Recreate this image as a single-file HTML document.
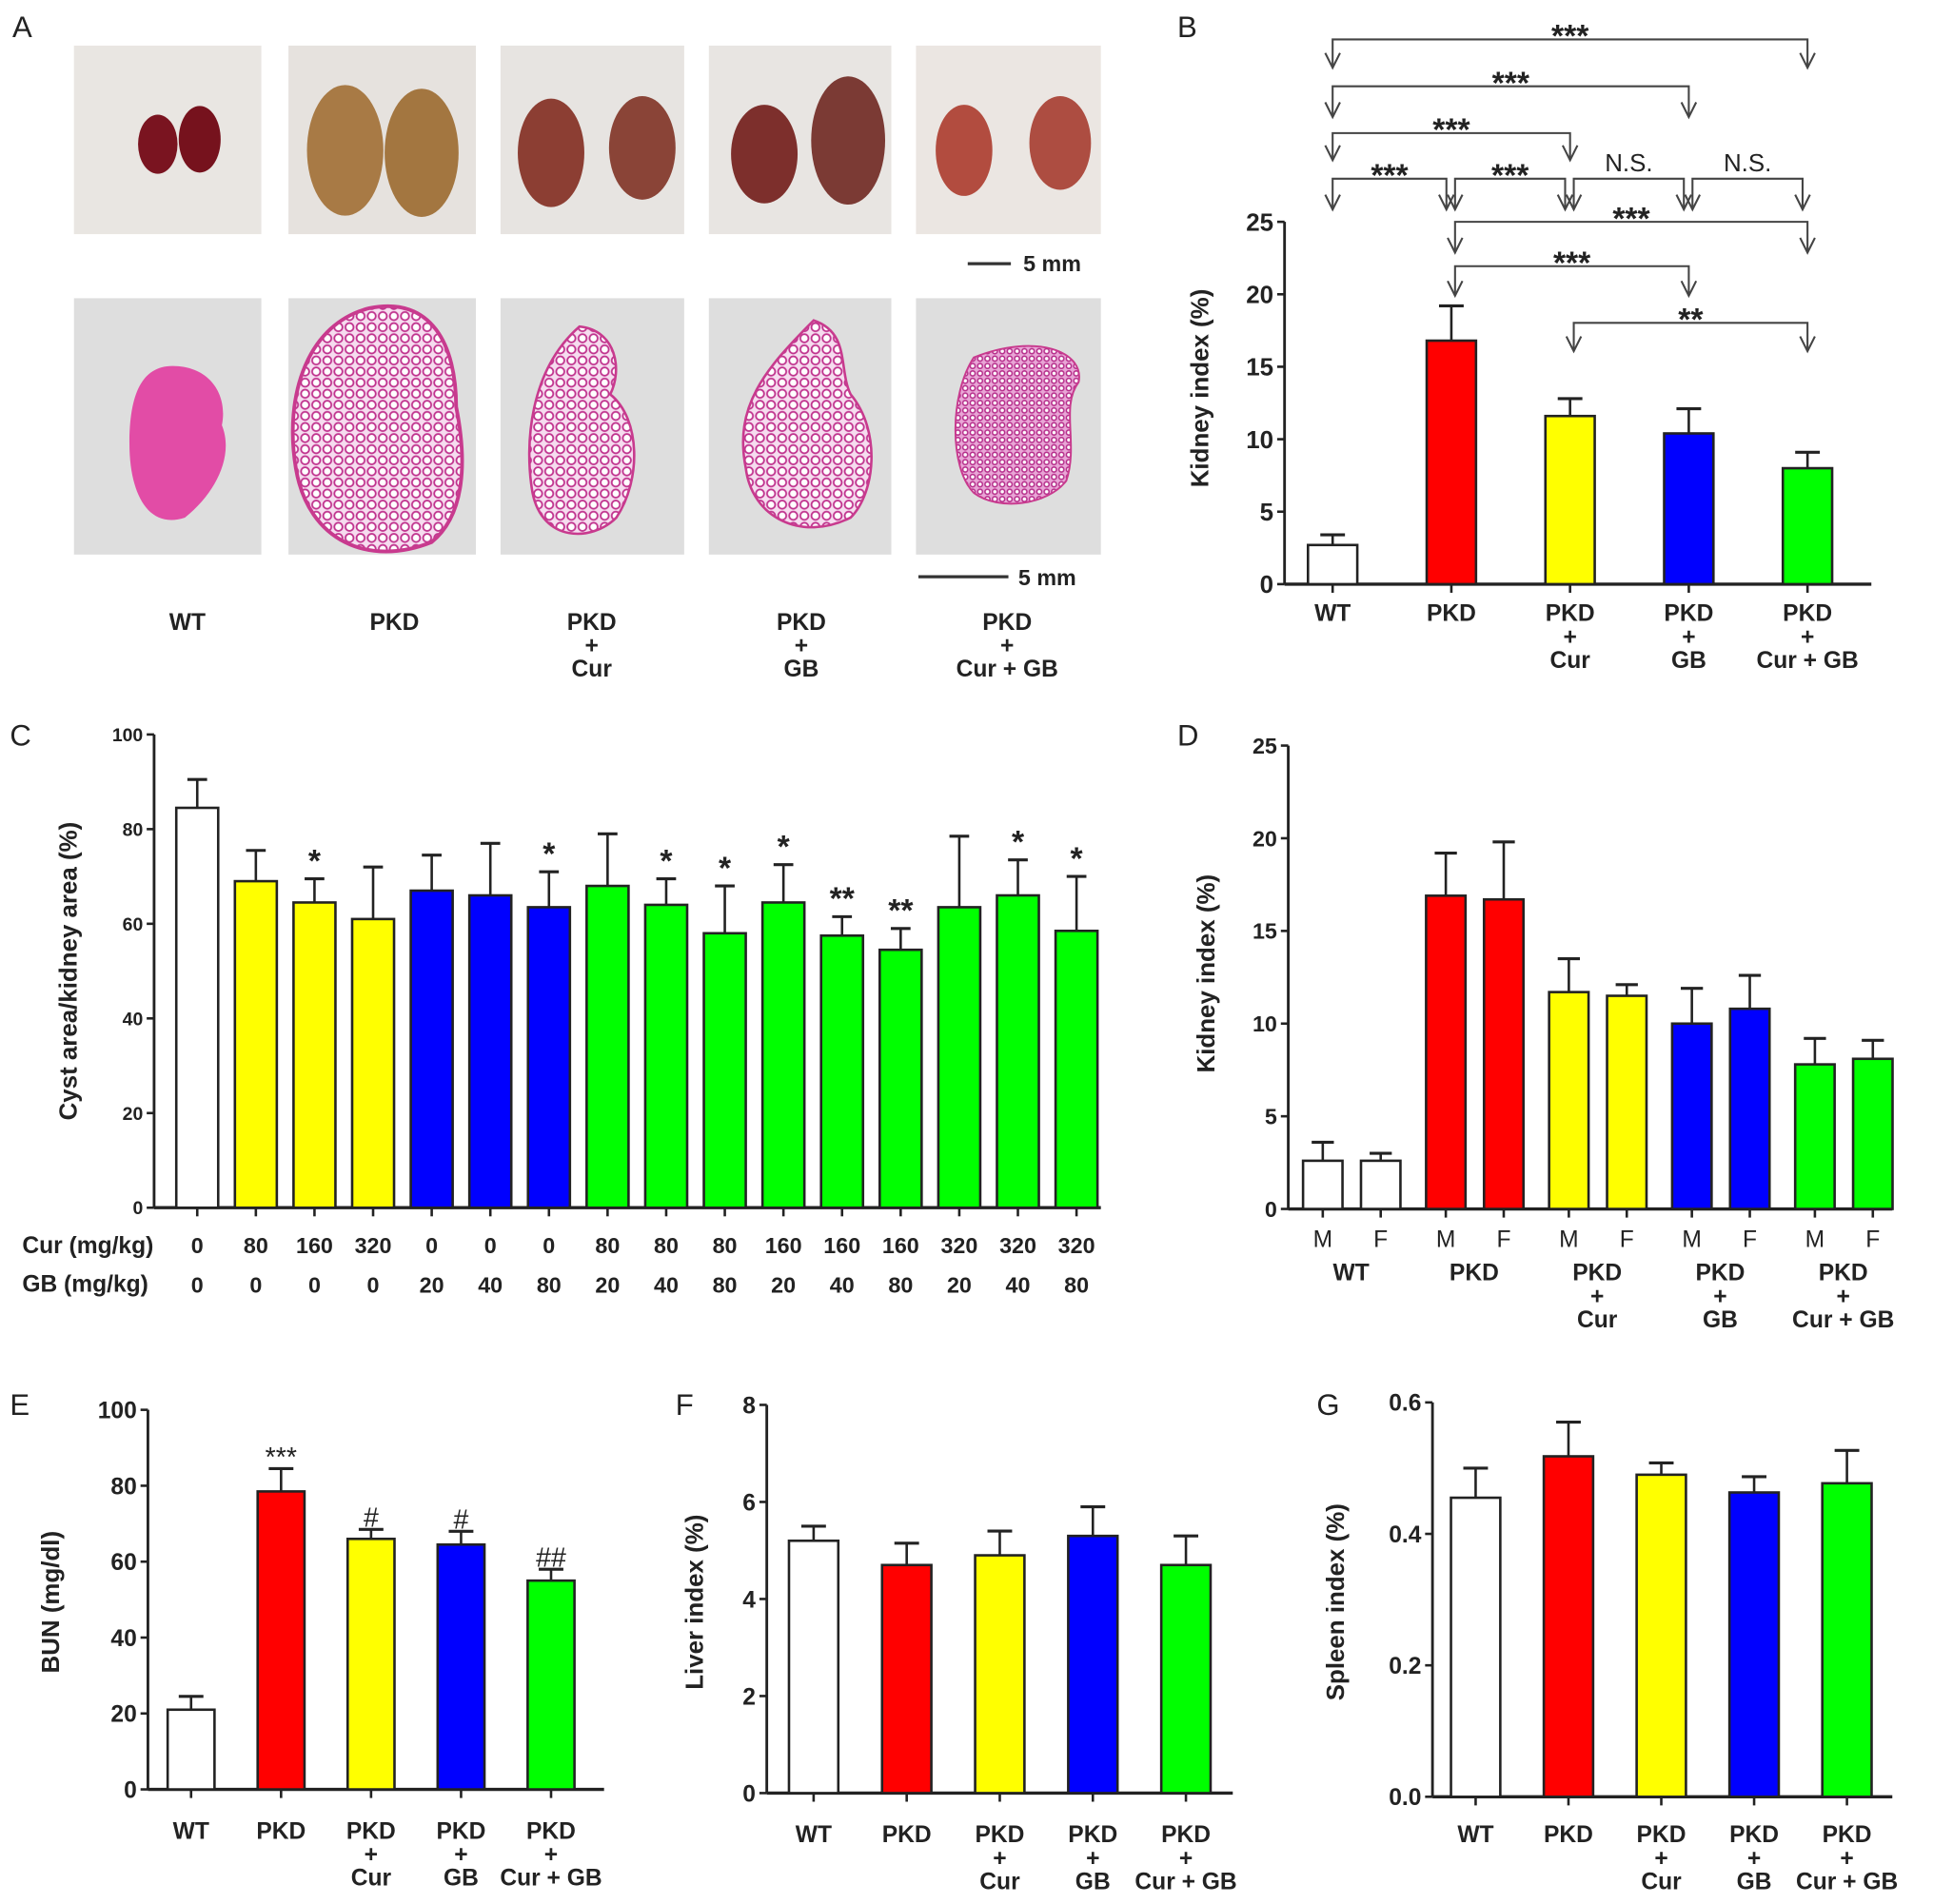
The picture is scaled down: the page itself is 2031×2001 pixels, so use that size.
<!DOCTYPE html>
<html><head><meta charset="utf-8">
<style>
html,body{margin:0;padding:0;background:#fff}
svg{display:block}
text{font-family:"Liberation Sans Narrow","Liberation Sans",sans-serif;fill:#222}
</style></head>
<body>
<svg id="fig" width="2031" height="2001" viewBox="0 0 1568 1545" preserveAspectRatio="none" xmlns="http://www.w3.org/2000/svg">
<defs>
<pattern id="cyst" width="9" height="9" patternUnits="userSpaceOnUse">
<rect width="9" height="9" fill="#f6dcef"/>
<circle cx="4.5" cy="4.5" r="3.3" fill="#fff" stroke="#c0338e" stroke-width="1.4"/>
</pattern>
<pattern id="cyst2" width="6" height="6" patternUnits="userSpaceOnUse">
<rect width="6" height="6" fill="#e9a6d6"/>
<circle cx="3" cy="3" r="2" fill="#fff" stroke="#b52c8a" stroke-width="1.2"/>
</pattern>
</defs>
<g id="panelA">
<text x="10" y="30" font-size="24">A</text>
<rect x="60" y="37" width="152" height="153" fill="#e9e6e2"/>
<rect x="234" y="37" width="152" height="153" fill="#e6e2de"/>
<rect x="406" y="37" width="149" height="153" fill="#e7e4e1"/>
<rect x="575" y="37" width="148" height="153" fill="#e8e5e2"/>
<rect x="743" y="37" width="150" height="153" fill="#ebe6e2"/>
<ellipse cx="128" cy="117" rx="16" ry="24" fill="#7a1420"/><ellipse cx="162" cy="113" rx="17" ry="27" fill="#76121d"/>
<ellipse cx="280" cy="122" rx="31" ry="53" fill="#a87a45"/><ellipse cx="342" cy="124" rx="30" ry="52" fill="#a37640"/>
<ellipse cx="447" cy="124" rx="27" ry="44" fill="#8c3e33"/><ellipse cx="521" cy="120" rx="27" ry="42" fill="#8a4437"/>
<ellipse cx="620" cy="125" rx="27" ry="40" fill="#7d2f2c"/><ellipse cx="688" cy="114" rx="30" ry="52" fill="#7b3a34"/>
<ellipse cx="782" cy="122" rx="23" ry="37" fill="#b24c3f"/><ellipse cx="860" cy="116" rx="25" ry="38" fill="#ad4d41"/>
<line x1="785" y1="214" x2="820" y2="214" stroke="#333" stroke-width="2.5"/>
<text x="830" y="220" font-size="18" font-weight="bold">5 mm</text>
<rect x="60" y="242" width="152" height="208" fill="#dedede"/>
<rect x="234" y="242" width="152" height="208" fill="#dedede"/>
<rect x="406" y="242" width="149" height="208" fill="#dedede"/>
<rect x="575" y="242" width="148" height="208" fill="#dedede"/>
<rect x="743" y="242" width="150" height="208" fill="#dedede"/>
<path d="M140 297 C170 297 185 320 180 345 C190 370 175 400 150 420 C120 430 105 400 105 360 C105 320 115 297 140 297Z" fill="#e24ca6"/>
<path d="M300 250 C350 240 370 280 370 330 C380 380 375 420 350 440 C300 460 250 440 240 380 C230 320 250 262 300 250Z" fill="url(#cyst)" stroke="#c83a8e" stroke-width="3"/>
<path d="M470 265 C500 268 505 300 495 320 C520 340 520 390 500 420 C480 440 440 440 432 400 C425 360 430 300 470 265Z" fill="url(#cyst)" stroke="#c83a8e" stroke-width="2"/>
<path d="M660 260 C690 270 680 300 690 320 C715 350 710 400 690 420 C650 440 610 420 605 380 C595 330 620 300 660 260Z" fill="url(#cyst)" stroke="#c83a8e" stroke-width="2"/>
<path d="M790 290 C840 270 880 285 875 310 C860 330 875 360 865 390 C850 410 810 415 790 400 C770 380 770 320 790 290Z" fill="url(#cyst2)" stroke="#c83a8e" stroke-width="1.5"/>
<line x1="745" y1="468" x2="818" y2="468" stroke="#333" stroke-width="2.5"/>
<text x="826" y="475" font-size="18" font-weight="bold">5 mm</text>
<g font-size="19" font-weight="bold" text-anchor="middle">
<text x="152" y="511">WT</text><text x="320" y="511">PKD</text>
<text x="480" y="511">PKD</text><text x="480" y="530">+</text><text x="480" y="549">Cur</text>
<text x="650" y="511">PKD</text><text x="650" y="530">+</text><text x="650" y="549">GB</text>
<text x="817" y="511">PKD</text><text x="817" y="530">+</text><text x="817" y="549">Cur + GB</text>
</g>
</g>
</svg>
<script>
// ---- data ----
const groupsMain = ["WT","PKD","PKD + Cur","PKD + GB","PKD + Cur + GB"];
const colorsMain = ["#ffffff","#ff0000","#ffff00","#0000ff","#00ff00"];
const kidneyB = [2.7,16.8,11.6,10.4,8.0];
const kidneyBErr = [3.4,19.2,12.8,12.1,9.1];
const bTicks = [0,5,10,15,20,25];

const curDose = ["0","80","160","320","0","0","0","80","80","80","160","160","160","320","320","320"];
const gbDose = ["0","0","0","0","20","40","80","20","40","80","20","40","80","20","40","80"];
const cystVals = [84.5,69,64.5,61,67,66,63.5,68,64,58,64.5,57.5,54.5,63.5,66,58.5];
const cystErr = [90.5,75.5,69.5,72,74.5,77,71,79,69.5,68,72.5,61.5,59,78.5,73.5,70];
const cystStars = ["","","*","","","","*","","*","*","*","**","**","","*","*"];
const cystColors = ["#ffffff","#ffff00","#ffff00","#ffff00","#0000ff","#0000ff","#0000ff","#00ff00","#00ff00","#00ff00","#00ff00","#00ff00","#00ff00","#00ff00","#00ff00","#00ff00"];
const cTicks = [0,20,40,60,80,100];

const sexLabels = ["M","F","M","F","M","F","M","F","M","F"];
const kidneyD = [2.6,2.6,16.9,16.7,11.7,11.5,10.0,10.8,7.8,8.1];
const kidneyDErr = [3.6,3.0,19.2,19.8,13.5,12.1,11.9,12.6,9.2,9.1];
const dTicks = [0,5,10,15,20,25];

const bunVals = [21,78.5,66,64.5,55];
const bunErr = [24.5,84.5,68.5,68,58];
const bunMarks = ["","***","#","#","##"];
const eTicks = [0,20,40,60,80,100];

const liverVals = [5.2,4.7,4.9,5.3,4.7];
const liverErr = [5.5,5.15,5.4,5.9,5.3];
const fTicks = [0,2,4,6,8];

const spleenVals = [0.455,0.518,0.49,0.463,0.477];
const spleenErr = [0.50,0.57,0.508,0.487,0.527];
const gTicks = ["0.0","0.2","0.4","0.6"];

// ---- helpers ----
const NS="http://www.w3.org/2000/svg";
const svg=document.getElementById('fig');
function mk(tag,attrs,parent){const e=document.createElementNS(NS,tag);for(const k in attrs)e.setAttribute(k,attrs[k]);(parent||svg).appendChild(e);return e;}
function txt(x,y,s,size,anchor,parent,weight){const t=mk('text',{x:x,y:y,'font-size':size,'text-anchor':anchor||'middle','font-weight':weight||'bold'},parent);t.textContent=s;return t;}

function chart(cfg){
  const g=mk('g',{});
  
  
  const ys=v=>cfg.y0-(v-cfg.min)/(cfg.max-cfg.min)*(cfg.y0-cfg.yTop);
  const ax=mk('line',{x1:cfg.x0,y1:cfg.yTop,x2:cfg.x0,y2:cfg.y0,stroke:'#222','stroke-width':2.2},g);
  
  
  cfg.ticks.forEach(t=>{
    const v=parseFloat(t);const y=ys(v);
    mk('line',{x1:cfg.x0-6,y1:y,x2:cfg.x0,y2:y,stroke:'#222','stroke-width':2},g);
    const tl=txt(cfg.x0-9,y+cfg.tickSize*0.36,String(t),cfg.tickSize,'end',g);
    
    
  });
  const xa=mk('line',{x1:cfg.x0,y1:cfg.y0,x2:cfg.xEnd,y2:cfg.y0,stroke:'#222','stroke-width':2.6},g);
  
  
  cfg.vals.forEach((v,i)=>{
    const cx=cfg.centers(i);
    const y=ys(v),ye=ys(cfg.err[i]);
    mk('line',{x1:cx,y1:ye,x2:cx,y2:y,stroke:'#222','stroke-width':2},g);
    mk('line',{x1:cx-cfg.cap,y1:ye,x2:cx+cfg.cap,y2:ye,stroke:'#222','stroke-width':2.4},g);
    const r=mk('rect',{x:cx-cfg.bw/2,y:y,width:cfg.bw,height:cfg.y0-y,fill:cfg.colors[i],stroke:'#222','stroke-width':2},g);
    
    
    mk('line',{x1:cx,y1:cfg.y0,x2:cx,y2:cfg.y0+7,stroke:'#222','stroke-width':2},g);
    if(cfg.marks&&cfg.marks[i]){
      const m=txt(cx,ye-4+(cfg.markShift||0),cfg.marks[i],cfg.markSize||22,'middle',g,cfg.markWeight||'normal');
      
      
    }
  });
  const tt=txt(0,0,cfg.title,20,'middle',g);
  tt.setAttribute('transform','translate('+cfg.titleX+','+cfg.titleY+') rotate(-90)');
  
  
  const pl=txt(cfg.labelX,cfg.labelY,cfg.label,24,'start',g,'normal');
  
  
  return {g:g,ys:ys};
}
function groupLabels(centers,y,size,g){
  groupsMain.forEach((n,i)=>{
    const cx=centers(i);
    if(n==="WT"||n==="PKD"){txt(cx,y,n,size,'middle',g);}
    else{const rest=n.replace('PKD + ','');
      txt(cx,y,'PKD',size,'middle',g);txt(cx,y+19,'+',size,'middle',g);txt(cx,y+38,rest,size,'middle',g);}
  });
}

// ---- Panel B ----
const bC=i=>1081+i*96.3;
const B=chart({name:'panel-b-kidney-index',x0:1042,y0:474,yTop:180,min:0,max:25,xEnd:1518,ticks:bTicks,tickSize:20,vals:kidneyB,err:kidneyBErr,colors:colorsMain,centers:bC,bw:40,cap:10,title:'Kidney index (%)',titleX:980,titleY:315,label:'B',labelX:955,labelY:30});
groupLabels(bC,504,19,B.g);
const bracketRows=[
 [0,4,32,55,'***'],[0,3,70,95,'***'],[0,2,108,130,'***'],
 [0,1,145,170,'***'],[1,2,145,170,'***'],[2,3,145,170,'N.S.'],[3,4,145,170,'N.S.'],
 [1,4,180,205,'***'],[1,3,216,240,'***'],[2,4,262,285,'**']];
bracketRows.forEach(r=>{
  const xa=bC(r[0])+(r[0]>0?3:0), xb=bC(r[1])-(r[1]-r[0]===1&&r[2]===145?4:0);
  const bg=mk('g',{},B.g);
  
  
  mk('polyline',{points:`${xa},${r[3]} ${xa},${r[2]} ${xb},${r[2]} ${xb},${r[3]}`,fill:'none',stroke:'#444','stroke-width':1.6},bg);
  [xa,xb].forEach(x=>mk('polyline',{points:`${x-6},${r[3]-12} ${x},${r[3]} ${x+6},${r[3]-12}`,fill:'none',stroke:'#444','stroke-width':1.6},bg));
  const ns=r[4]==='N.S.';
  txt((xa+xb)/2,r[2]+(ns?-6:6),r[4],ns?20:26,'middle',bg,ns?'normal':'bold');
});

// ---- Panel C ----
const cC=i=>160+i*47.55;
const C=chart({name:'panel-c-cyst-area',x0:125,y0:980,yTop:596,min:0,max:100,xEnd:893,ticks:cTicks,tickSize:15,vals:cystVals,err:cystErr,colors:cystColors,centers:cC,bw:34,cap:8,marks:cystStars,markSize:26,markShift:-2,markWeight:'bold',title:'Cyst area/kidney area (%)',titleX:62,titleY:788,label:'C',labelX:8,labelY:605});
txt(18,1017,'Cur (mg/kg)',19,'start',C.g);txt(18,1048,'GB (mg/kg)',19,'start',C.g);
curDose.forEach((d,i)=>txt(cC(i),1017,d,18,'middle',C.g));
gbDose.forEach((d,i)=>txt(cC(i),1049,d,18,'middle',C.g));

// ---- Panel D ----
const dC=i=>1073+Math.floor(i/2)*99.8+(i%2)*47;
const D=chart({name:'panel-d-kidney-index-sex',x0:1045,y0:981,yTop:605,min:0,max:25,xEnd:1535,ticks:dTicks,tickSize:18,vals:kidneyD,err:kidneyDErr,colors:colorsMain.flatMap(c=>[c,c]),centers:dC,bw:32,cap:9,title:'Kidney index (%)',titleX:985,titleY:790,label:'D',labelX:955,labelY:605});
sexLabels.forEach((s,i)=>txt(dC(i),1012,s,19,'middle',D.g,'normal'));
groupLabels(i=>1096+i*99.8,1039,19,D.g);

// ---- Panel E ----
const eC=i=>155+i*73;
const E=chart({name:'panel-e-bun',x0:120,y0:1452,yTop:1144,min:0,max:100,xEnd:490,ticks:eTicks,tickSize:19,vals:bunVals,err:bunErr,colors:colorsMain,centers:eC,bw:38,cap:10,marks:bunMarks,markSize:22,markShift:2,title:'BUN (mg/dl)',titleX:48,titleY:1300,label:'E',labelX:8,labelY:1148});
groupLabels(eC,1492,19,E.g);

// ---- Panel F ----
const fC=i=>660+i*75.5;
const F=chart({name:'panel-f-liver-index',x0:622,y0:1455,yTop:1140,min:0,max:8,xEnd:1000,ticks:fTicks,tickSize:19,vals:liverVals,err:liverErr,colors:colorsMain,centers:fC,bw:40,cap:10,title:'Liver index (%)',titleX:570,titleY:1300,label:'F',labelX:548,labelY:1148});
groupLabels(fC,1495,19,F.g);

// ---- Panel G ----
const gC=i=>1197+i*75.3;
const G=chart({name:'panel-g-spleen-index',x0:1162,y0:1458,yTop:1138,min:0,max:0.6,xEnd:1535,ticks:gTicks,tickSize:19,vals:spleenVals,err:spleenErr,colors:colorsMain,centers:gC,bw:40,cap:10,title:'Spleen index (%)',titleX:1090,titleY:1300,label:'G',labelX:1068,labelY:1148});
groupLabels(gC,1495,19,G.g);
</script>
</body></html>
